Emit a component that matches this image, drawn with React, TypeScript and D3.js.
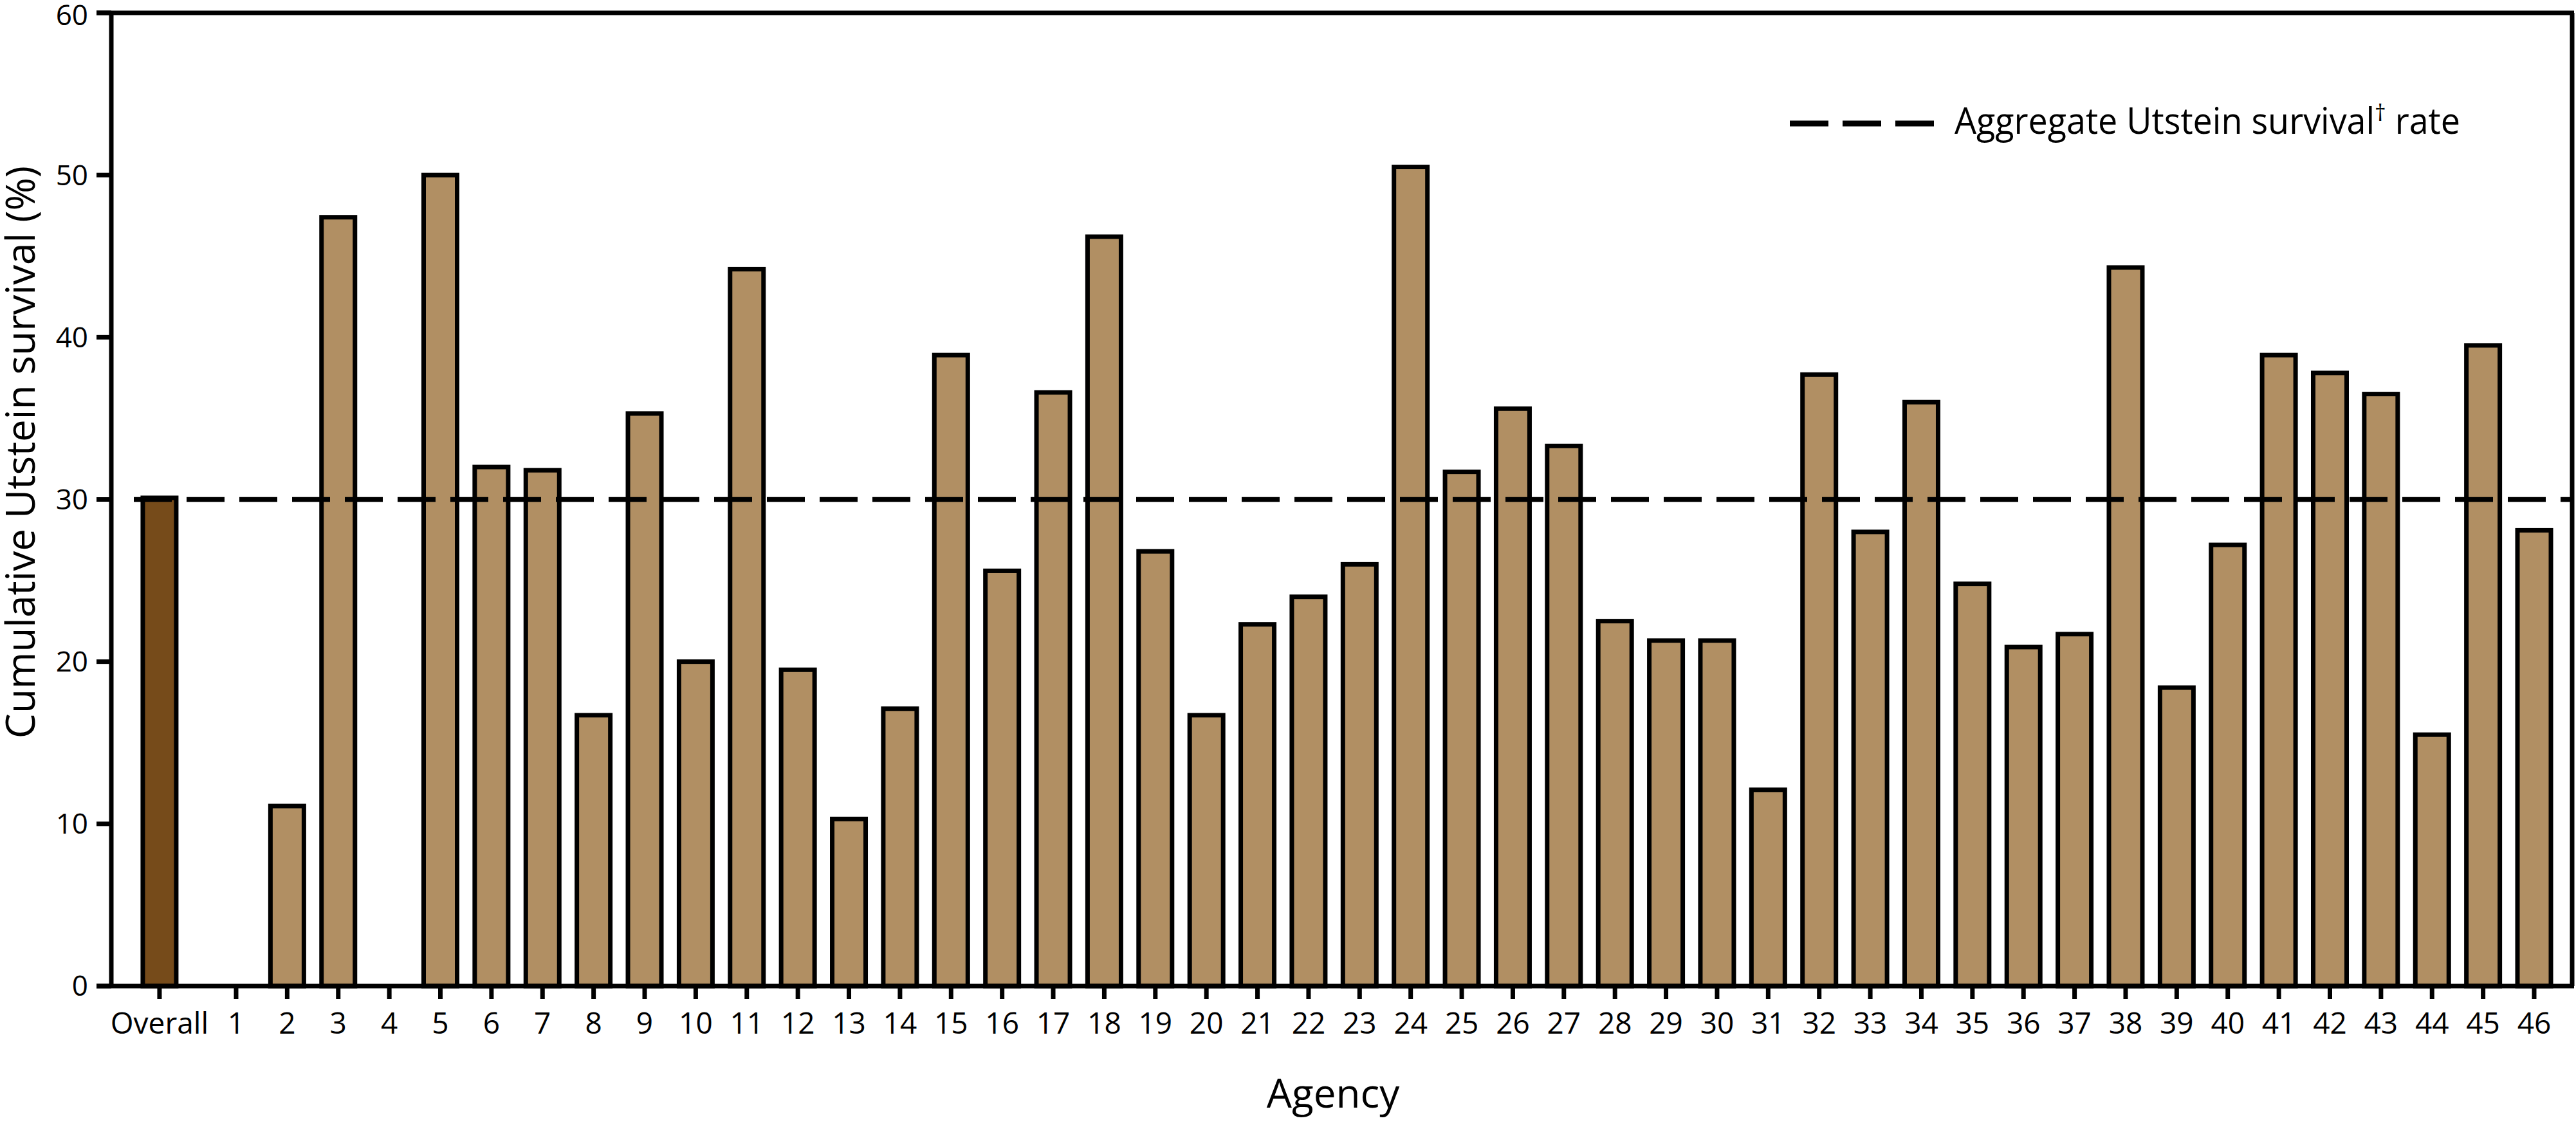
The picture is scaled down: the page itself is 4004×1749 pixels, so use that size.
import React from "react";
import { scaleLinear, range } from "d3";

// agencies along the x axis, "Overall" first
const agencies = range(1, 47).map(String);
const overallLabel = "Overall";
const overallValue = 30.1;

// cumulative Utstein survival (%), agency 1..46 (null = no bar)
const agencySurvival = [
  null, 11.1, 47.4, null, 50.0, 32.0, 31.8, 16.7, 35.3, 20.0,
  44.2, 19.5, 10.3, 17.1, 38.9, 25.6, 36.6, 46.2, 26.8, 16.7,
  22.3, 24.0, 26.0, 50.5, 31.7, 35.6, 33.3, 22.5, 21.3, 21.3,
  12.1, 37.7, 28.0, 36.0, 24.8, 20.9, 21.7, 44.3, 18.4, 27.2,
  38.9, 37.8, 36.5, 15.5, 39.5, 28.1,
];

const aggregateRate = 30;
const yTicks = [0, 10, 20, 30, 40, 50, 60];

const W = 4004;
const H = 1749;
const font = "'Open Sans', sans-serif";

export default function App() {
  const left = 173;
  const top = 20;
  const bottom = 1533;
  const right = 3998;

  const y = scaleLinear().domain([0, 60]).range([bottom, top]);
  // slot 1..46 for agencies, Overall sits 1.5 slots before agency 1
  const x = scaleLinear().domain([1, 46]).range([367, 3939]);
  const overallSlot = -0.5;
  const barW = 52;

  const bars = [
    { label: overallLabel, slot: overallSlot, value: overallValue, fill: "#764B1A" },
    ...agencies.map((a, i) => ({
      label: a,
      slot: i + 1,
      value: agencySurvival[i],
      fill: "#B18F63",
    })),
  ];

  return (
    <div style={{ position: "absolute", left: 0, top: 0 }}>
      <svg width={W} height={H} style={{ display: "block", background: "#fff" }}>
        {/* bars */}
        {bars
          .filter((d) => d.value != null)
          .map((d) => (
            <rect
              key={d.label}
              x={x(d.slot) - barW / 2}
              y={y(d.value as number)}
              width={barW}
              height={bottom - y(d.value as number)}
              fill={d.fill}
              stroke="#000"
              strokeWidth={7}
            />
          ))}

        {/* aggregate rate */}
        <line
          x1={208}
          x2={right}
          y1={y(aggregateRate)}
          y2={y(aggregateRate)}
          stroke="#000"
          strokeWidth={7.5}
          strokeDasharray="59 23"
        />

        {/* frame */}
        <line x1={150} x2={right + 3} y1={top} y2={top} stroke="#000" strokeWidth={7} />
        <line x1={right} x2={right} y1={top} y2={bottom} stroke="#000" strokeWidth={7} />
        <line x1={left} x2={left} y1={top - 3} y2={bottom + 3} stroke="#000" strokeWidth={7} />
        <line x1={150} x2={right + 3} y1={bottom} y2={bottom} stroke="#000" strokeWidth={7} />

        {/* y axis */}
        {yTicks.map((t) => (
          <g key={t}>
            <line x1={150} x2={left} y1={y(t)} y2={y(t)} stroke="#000" strokeWidth={7} />
            <text
              x={137}
              y={Math.max(y(t), 24)}
              dy="0.35em"
              textAnchor="end"
              fontFamily={font}
              fontSize={44}
            >
              {t}
            </text>
          </g>
        ))}
        <text
          transform={`translate(54, 703) rotate(-90)`}
          textAnchor="middle"
          fontFamily={font}
          fontSize={62}
        >
          Cumulative Utstein survival (%)
        </text>

        {/* x axis */}
        {bars.map((d) => (
          <g key={d.label}>
            <line
              x1={x(d.slot)}
              x2={x(d.slot)}
              y1={bottom}
              y2={bottom + 20}
              stroke="#000"
              strokeWidth={7}
            />
            <text
              x={x(d.slot)}
              y={1607}
              textAnchor="middle"
              fontFamily={font}
              fontSize={46}
            >
              {d.label}
            </text>
          </g>
        ))}
        <text x={2072} y={1722} textAnchor="middle" fontFamily={font} fontSize={62}>
          Agency
        </text>

        {/* legend */}
        <line
          x1={2782}
          x2={3006}
          y1={192}
          y2={192}
          stroke="#000"
          strokeWidth={9}
          strokeDasharray="60 22"
        />
        <text
          x={3038}
          y={208}
          fontFamily={font}
          fontSize={56}
          textLength={786}
          lengthAdjust="spacingAndGlyphs"
        >
          Aggregate Utstein survival
          <tspan fontSize={36} dy={-20}>†</tspan>
          <tspan dy={20}> rate</tspan>
        </text>
      </svg>
    </div>
  );
}
